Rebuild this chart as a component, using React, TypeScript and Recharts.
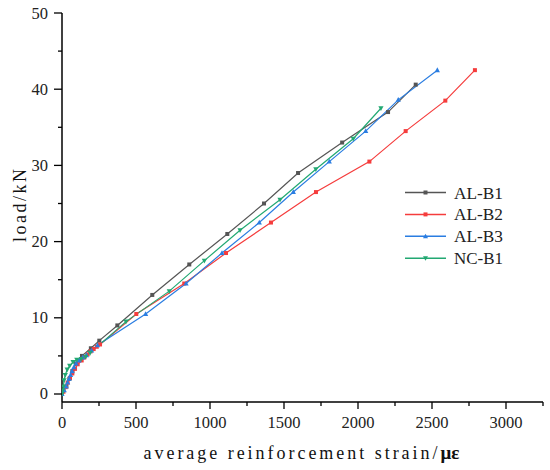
import React from "react";
import { LineChart, Line, XAxis, YAxis } from "recharts";

// AL-B1
const b1Strain = [0, 30, 50, 70, 95, 135, 195, 252, 374, 610, 860, 1117, 1365, 1595, 1893, 2203, 2390];
const b1Load = [0, 1, 2, 3, 4, 5, 6, 7, 9, 13, 17, 21, 25, 29, 33, 37, 40.6];
// AL-B2
const b2Strain = [0, 10, 25, 38, 54, 70, 88, 106, 133, 151, 173, 194, 214, 235, 257, 502, 826, 1108, 1412, 1716, 2077, 2322, 2590, 2790];
const b2Load = [0, 0.3, 0.9, 1.5, 2.1, 2.7, 3.3, 3.9, 4.4, 4.8, 5.2, 5.6, 5.9, 6.2, 6.5, 10.5, 14.5, 18.5, 22.5, 26.5, 30.5, 34.5, 38.5, 42.5];
// AL-B3
const b3Strain = [0, 15, 28, 38, 48, 58, 68, 80, 95, 115, 140, 165, 200, 240, 565, 838, 1081, 1333, 1563, 1806, 2052, 2272, 2536];
const b3Load = [0, 0.5, 1, 1.5, 2, 2.5, 3, 3.5, 4, 4.4, 4.8, 5.1, 5.7, 6.4, 10.5, 14.5, 18.5, 22.5, 26.5, 30.5, 34.5, 38.6, 42.5];
// NC-B1
const ncStrain = [0, 5, 9, 14, 22, 35, 52, 75, 100, 130, 160, 190, 432, 725, 962, 1203, 1473, 1715, 1968, 2155];
const ncLoad = [0, 0.5, 1, 1.8, 2.5, 3.2, 3.7, 4.2, 4.5, 4.6, 4.9, 5.4, 9.5, 13.5, 17.5, 21.5, 25.5, 29.5, 33.5, 37.5];

const seriesNames = ["AL-B1", "AL-B2", "AL-B3", "NC-B1"];
const xTicks = [0, 250, 500, 750, 1000, 1250, 1500, 1750, 2000, 2250, 2500, 2750, 3000, 3250];
const yTicks = [0, 5, 10, 15, 20, 25, 30, 35, 40, 45, 50];

const colors = ["#555555", "#f53c3c", "#2a7de1", "#22a872"];
const shapes = ["square", "square", "up", "down"];

const SERIF = "'Liberation Serif', 'DejaVu Serif', serif";

const toData = (xs: number[], ys: number[]) => xs.map((x, i) => ({ x, y: ys[i] }));
const dataSets = [
  toData(b1Strain, b1Load),
  toData(b2Strain, b2Load),
  toData(b3Strain, b3Load),
  toData(ncStrain, ncLoad),
];

const makeDot = (shape: string, color: string) => (props: any) => {
  const { cx, cy, index } = props;
  if (cx == null || cy == null) return <g key={index} />;
  if (shape === "square") {
    return <rect key={index} x={cx - 2} y={cy - 2} width={4} height={4} fill={color} />;
  }
  if (shape === "up") {
    return (
      <polygon key={index} points={`${cx},${cy - 2.8} ${cx - 2.6},${cy + 2} ${cx + 2.6},${cy + 2}`} fill={color} />
    );
  }
  return (
    <polygon key={index} points={`${cx},${cy + 2.8} ${cx - 2.6},${cy - 2} ${cx + 2.6},${cy - 2}`} fill={color} />
  );
};

const XTick = (props: any) => {
  const { x, y, payload } = props;
  const major = payload.value % 500 === 0;
  return (
    <g>
      <line x1={x} y1={y} x2={x} y2={y + (major ? 7 : 4)} stroke="#000" strokeWidth={1.3} />
      {major && (
        <text x={x} y={y + 26} textAnchor="middle" style={{ fontFamily: SERIF, fontSize: 16.5 }} fill="#222">
          {payload.value}
        </text>
      )}
    </g>
  );
};

const YTick = (props: any) => {
  const { x, y, payload } = props;
  const major = payload.value % 10 === 0;
  return (
    <g>
      <line x1={x - (major ? 8 : 4)} y1={y} x2={x} y2={y} stroke="#000" strokeWidth={1.3} />
      {major && (
        <text x={x - 14} y={y + 5.5} textAnchor="end" style={{ fontFamily: SERIF, fontSize: 16.5 }} fill="#222">
          {payload.value}
        </text>
      )}
    </g>
  );
};

const LegendBox = () => (
  <svg width={130} height={92} style={{ position: "absolute", left: 400, top: 180 }}>
    {seriesNames.map((n, i) => {
      const cy = 12.5 + i * 21.9;
      return (
        <g key={n}>
          <line x1={5} y1={cy} x2={46} y2={cy} stroke={colors[i]} strokeWidth={1.5} />
          {shapes[i] === "square" && <rect x={23.5} y={cy - 2} width={4} height={4} fill={colors[i]} />}
          {shapes[i] === "up" && <polygon points={`25.5,${cy - 2.6} 23,${cy + 2} 28,${cy + 2}`} fill={colors[i]} />}
          {shapes[i] === "down" && <polygon points={`25.5,${cy + 2.6} 23,${cy - 2} 28,${cy - 2}`} fill={colors[i]} />}
          <text
            x={54}
            y={cy + 6}
            textLength={49}
            lengthAdjust="spacingAndGlyphs"
            style={{ fontFamily: SERIF, fontSize: 17.5 }}
            fill="#222"
          >
            {n}
          </text>
        </g>
      );
    })}
  </svg>
);

export default function App() {
  return (
    <div style={{ position: "absolute", left: 0, top: 0, width: 550, height: 470, background: "#fff" }}>
      <LineChart width={550} height={470} margin={{ top: 13, right: 7, left: 0, bottom: 0 }}>
        <XAxis
          type="number"
          dataKey="x"
          domain={[0, 3250]}
          ticks={xTicks}
          interval={0}
          allowDataOverflow
          tickSize={0}
          tickMargin={0}
          tick={<XTick />}
          height={68}
          axisLine={{ stroke: "#000", strokeWidth: 1.5 }}
          label={(p: any) => {
            const vb = p.viewBox;
            const start = vb.x + vb.width / 2 - 159;
            return (
              <g>
                <text
                  x={start}
                  y={vb.y + 57}
                  textLength={294}
                  lengthAdjust="spacing"
                  style={{ fontFamily: SERIF, fontSize: 18 }}
                  fill="#111"
                >
                  average reinforcement strain/
                </text>
                <text x={start + 297} y={vb.y + 57} style={{ fontFamily: SERIF, fontSize: 19, fontWeight: "bold" }} fill="#111">
                  με
                </text>
              </g>
            );
          }}
        />
        <YAxis
          type="number"
          dataKey="y"
          domain={[-1.05, 50]}
          ticks={yTicks}
          interval={0}
          allowDataOverflow
          tickSize={0}
          tickMargin={0}
          tick={<YTick />}
          width={62}
          axisLine={{ stroke: "#000", strokeWidth: 1.5 }}
          label={(p: any) => {
            const vb = p.viewBox;
            const cy = vb.y + vb.height / 2 - 2;
            return (
              <text
                x={26}
                y={cy}
                textAnchor="middle"
                textLength={73}
                lengthAdjust="spacing"
                transform={`rotate(-90, 26, ${cy})`}
                style={{ fontFamily: SERIF, fontSize: 18 }}
                fill="#111"
              >
                load/kN
              </text>
            );
          }}
        />
        {dataSets.map((d, i) => (
          <Line
            key={seriesNames[i]}
            data={d}
            dataKey="y"
            name={seriesNames[i]}
            type="linear"
            stroke={colors[i]}
            strokeWidth={1.2}
            dot={makeDot(shapes[i], colors[i])}
            activeDot={false}
            isAnimationActive={false}
          />
        ))}
      </LineChart>
      <LegendBox />
    </div>
  );
}
